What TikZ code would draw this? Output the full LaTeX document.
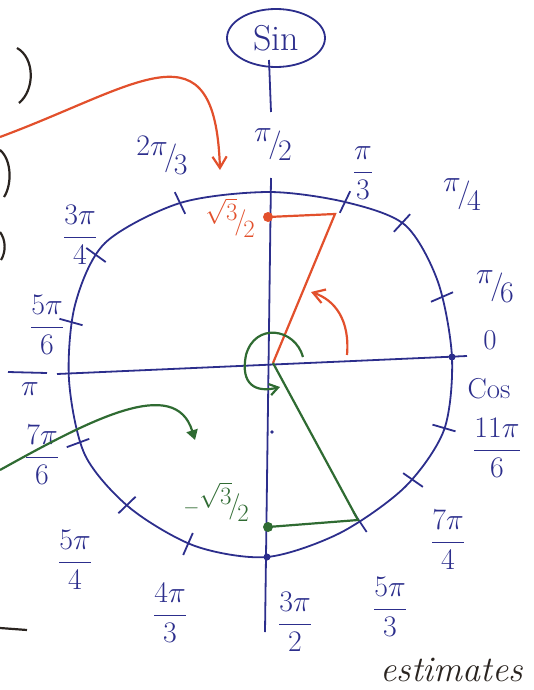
\documentclass[tikz,border=0pt]{standalone}
\usepackage{fontspec}
\usetikzlibrary{arrows.meta,positioning,calc,shapes.geometric}
\definecolor{ink}{HTML}{2C2E8C}
\definecolor{redink}{HTML}{E2502C}
\definecolor{greenink}{HTML}{2F6B32}
\definecolor{blackink}{HTML}{2A2420}
\newcommand{\slfr}[2]{\scalebox{1.2}{\raisebox{.36em}{$#1$}\kern-.12em/\kern-.12em\raisebox{-.3em}{$#2$}}}
\newcommand{\stk}[2]{\scalebox{1.2}{$\displaystyle\frac{#1}{#2}$}}
\tikzset{
  lab/.style   = {text=ink, font=\fontsize{24}{28}\selectfont, inner sep=1pt},
  rlab/.style  = {text=redink, font=\fontsize{22}{26}\selectfont, inner sep=1pt},
  glab/.style  = {text=greenink, font=\fontsize{22}{26}\selectfont, inner sep=1pt},
  sinbox/.style = {draw=ink, ellipse, line width=1.8pt, text=ink,
                  font=\fontsize{36}{38}\selectfont,
                  minimum width=98pt, minimum height=58pt, inner sep=0pt},
  ax/.style    = {draw=ink, line width=1.8pt},
  tk/.style    = {draw=ink, line width=1.8pt},
  rl/.style    = {draw=redink, line width=2.2pt},
  gl/.style    = {draw=greenink, line width=2.2pt},
  bk/.style    = {draw=blackink, line width=2.2pt},
  rarr/.style  = {-{Straight Barb[length=4mm,width=5mm]}, draw=redink, line width=2.2pt},
  garr/.style  = {-{Triangle[length=3.5mm,width=4mm]}, draw=greenink, line width=2.2pt},
  garr2/.style = {-{Straight Barb[length=3mm,width=4mm]}, draw=greenink, line width=2.2pt},
}
\begin{document}
\begin{tikzpicture}[x=1pt,y=-1pt]
  \useasboundingbox (0,0) rectangle (534,690);
  % labels
  \node[sinbox] (sin) at (276,38) {Sin};
  \node[lab] (p2) at (273,145) {\slfr{\pi}{2}};
  \node[lab] (tp3) at (162,155) {\slfr{2\pi}{3}};
  \node[lab] (p3) at (363,173) {\stk{\pi}{3}};
  \node[lab] (p4) at (462,195) {\slfr{\pi}{4}};
  \node[lab] (tp4) at (80,235) {\stk{3\pi}{4}};
  \node[lab] (fp6) at (47,325) {\stk{5\pi}{6}};
  \node[lab] (pi) at (30,389) {\scalebox{1.2}{$\pi$}};
  \node[lab] (p6) at (495,287) {\slfr{\pi}{6}};
  \node[lab] (zero) at (490,340) {\scalebox{1.2}{0}};
  \node[lab] (cos) at (489,389) {\scalebox{1.2}{Cos}};
  \node[lab] (ep6) at (497,448) {\stk{11\pi}{6}};
  \node[lab] (sp6) at (42,455) {\stk{7\pi}{6}};
  \node[lab] (fp4) at (75,560) {\stk{5\pi}{4}};
  \node[lab] (fp3) at (170,613) {\stk{4\pi}{3}};
  \node[lab] (tp2) at (295,622) {\stk{3\pi}{2}};
  \node[lab] (fvp3) at (390,607) {\stk{5\pi}{3}};
  \node[lab] (svp4) at (448,540) {\stk{7\pi}{4}};
  \node[rlab] (rs) at (230,218) {\slfr{\sqrt{3}}{2}};
  \node[glab] (gs) at (216,502) {$-$\slfr{\sqrt{3}}{2}};
  \node[anchor=west, text=blackink, font=\fontsize{36}{38}\selectfont\itshape] (est) at (377,670) {estimates};

  % axes and circle
  \coordinate (cc) at (262,375);
  \coordinate (o) at (273,363);
  \coordinate (vt) at (269,60);
  \coordinate (vm) at (271,112);
  \coordinate (vu) at (271,178);
  \coordinate (vb) at (265,632);
  \coordinate (hl) at (57,374);
  \coordinate (hr) at (467,356);
  \draw[ax] (vt) -- (vm);
  \draw[ax] (vu) -- (vb);
  \draw[ax] (hl) -- (hr);
  \draw[ax] (8,372) -- (47,373);
  \draw[ax] plot[smooth cycle] coordinates {(268,192) (345,202) (405,225) (438,282)
    (452,358) (444,430) (405,487) (340,533) (267,557) (195,546) (130,508) (85,455)
    (69,380) (75,305) (105,243) (180,203)};
  \foreach \a/\b in {180/203,345/202,402/223,442/297,444/428,413/480,360/522,
                     188/544,127/505,78/443,71/322,96/255}
    \draw[tk] ($(\a,\b)!12pt!(cc)$) -- ($(\a,\b)!-12pt!(cc)$);
  \fill[ink] (452,357) circle (3.5pt);
  \fill[ink] (267,557) circle (3.5pt);
  \fill[ink] (272,432) circle (1.8pt);

  % red: sin pi/3
  \coordinate (rd) at (268,217);
  \coordinate (rv) at (335,214);
  \draw[rl] (o) -- (rv) -- (rd);
  \fill[redink] (rd) circle (5pt);
  \coordinate (ra1) at (347,355);
  \coordinate (ra2) at (311,292);
  \draw[rarr] (ra1) .. controls (350,320) and (335,300) .. (ra2);
  \coordinate (rin) at (0,137);
  \coordinate (rtip) at (220,170);
  \draw[rarr] (rin) .. controls (140,85) and (215,20) .. (rtip);

  % green: sin 5pi/3
  \coordinate (gd) at (268,527);
  \coordinate (gv) at (358,520);
  \draw[gl] (o) -- (gv) -- (gd);
  \fill[greenink] (gd) circle (5pt);
  \coordinate (ga1) at (303,357);
  \coordinate (ga2) at (280,387);
  \draw[garr2] (ga1) .. controls (295,328) and (255,322) .. (246,355)
    .. controls (240,385) and (256,393) .. (ga2);
  \coordinate (gin) at (0,470);
  \coordinate (gtip) at (195,440);
  \draw[garr] (gin) .. controls (90,420) and (175,375) .. (gtip);

  % pieces at the left edge
  \draw[bk] (17,48) .. controls (35,58) and (35,90) .. (19,103);
  \draw[bk] (0,150) .. controls (12,160) and (12,185) .. (4,197);
  \draw[bk] (0,232) .. controls (6,240) and (6,252) .. (1,260);
  \draw[bk] (0,628) -- (27,630);
\end{tikzpicture}
\end{document}
